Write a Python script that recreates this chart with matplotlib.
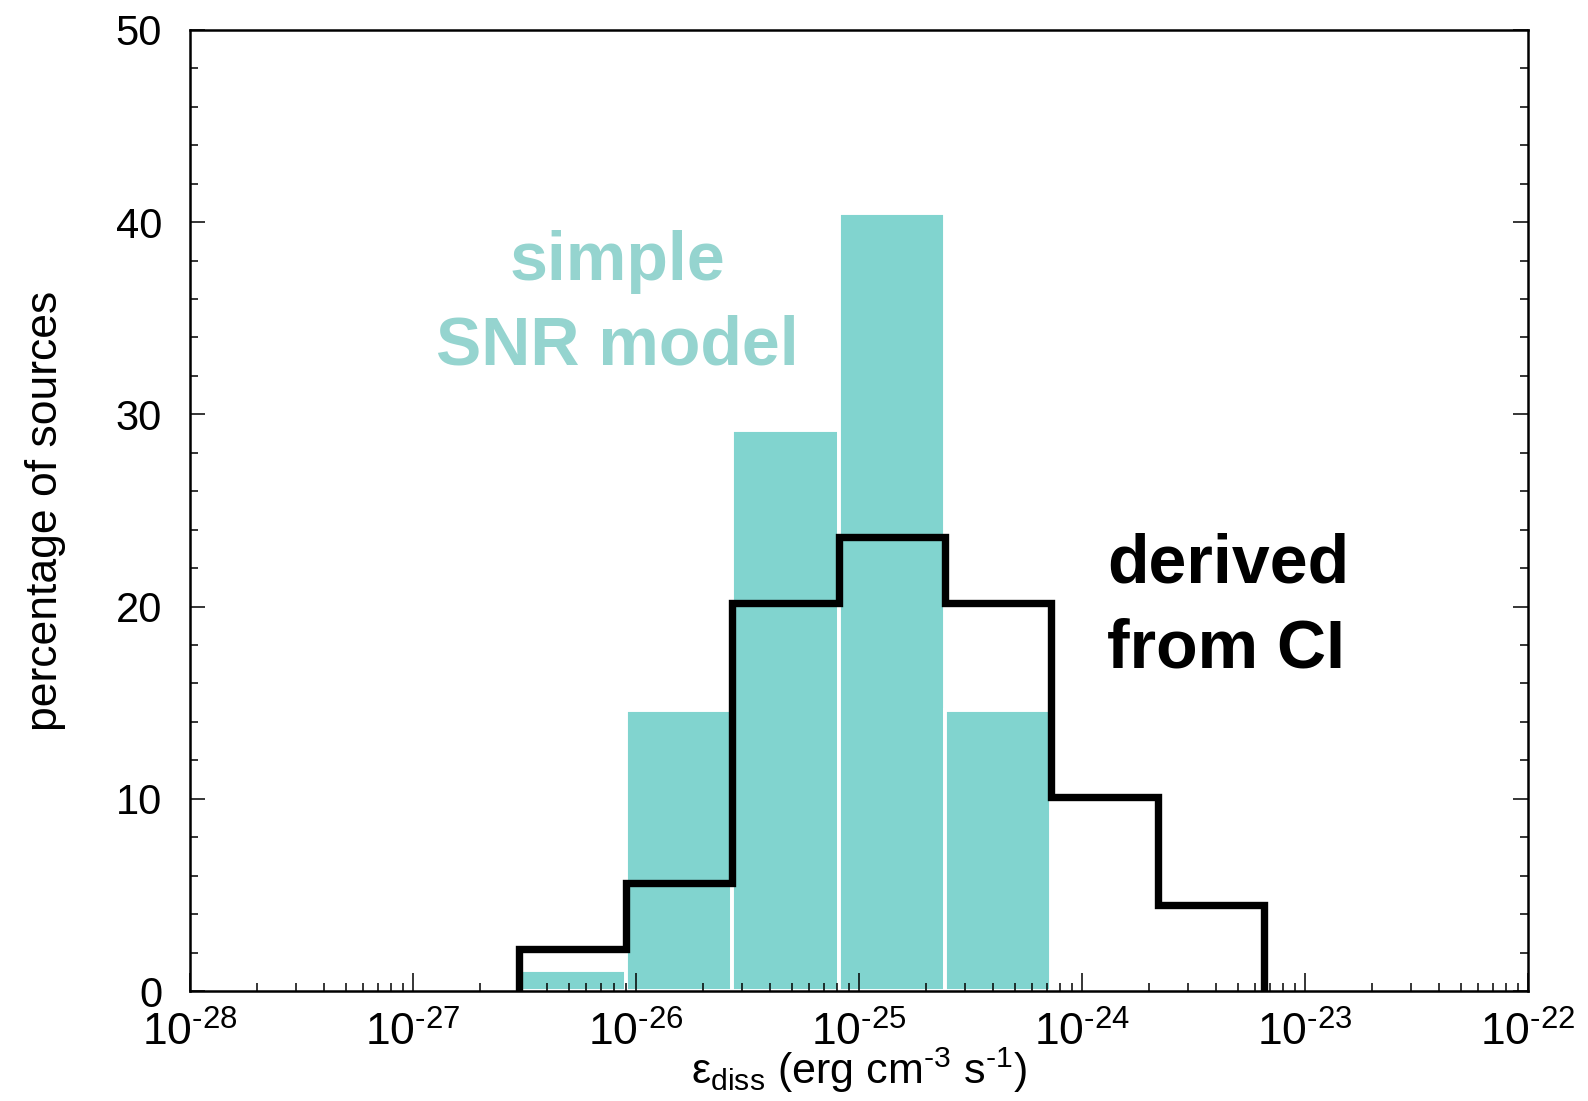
import math
import matplotlib
matplotlib.use("Agg")
import matplotlib.pyplot as plt
from matplotlib.ticker import LogLocator, MultipleLocator, FixedLocator, NullFormatter, FuncFormatter

plt.rcParams['font.family'] = ['Liberation Sans', 'DejaVu Sans']
plt.rcParams['mathtext.fontset'] = 'custom'
plt.rcParams['mathtext.rm'] = 'Liberation Sans'
plt.rcParams['mathtext.it'] = 'Liberation Sans:italic'
plt.rcParams['mathtext.bf'] = 'Liberation Sans:bold'

# bin edges (factor-of-3 bins), erg cm^-3 s^-1
bin_edges = [3e-27, 9e-27, 2.7e-26, 8.1e-26, 2.43e-25, 7.29e-25, 2.187e-24, 6.561e-24]
# simple SNR model (filled teal bars), first 5 bins
snr_model_pct = [1.1, 14.6, 29.2, 40.5, 14.6]
# derived from CI (black step histogram), all 7 bins
ci_derived_pct = [2.2, 5.6, 20.2, 23.6, 20.2, 10.1, 4.45]

x_major_ticks = [1e-28, 1e-27, 1e-26, 1e-25, 1e-24, 1e-23, 1e-22]
y_major_ticks = [0, 10, 20, 30, 40, 50]

teal = '#81d4cf'
teal_text = '#95d4cf'

fig = plt.figure(figsize=(15.88, 11.01), dpi=100)
ax = fig.add_axes([0.1196, 0.0999, 0.8426, 0.8729])

lefts = bin_edges[:len(snr_model_pct)]
widths = [bin_edges[i + 1] - bin_edges[i] for i in range(len(snr_model_pct))]
ax.bar(lefts, snr_model_pct, width=widths, align='edge', color=teal,
       edgecolor='white', linewidth=2.8, zorder=1)

ax.stairs(ci_derived_pct, bin_edges, baseline=0, color='black', linewidth=5.3,
          joinstyle='miter', zorder=3)

ax.set_xscale('log')
ax.set_xlim(1e-28, 1e-22)
ax.set_ylim(0, 50)

ax.xaxis.set_major_locator(FixedLocator(x_major_ticks))
ax.xaxis.set_minor_locator(LogLocator(base=10, subs=range(2, 10), numticks=100))
ax.xaxis.set_minor_formatter(NullFormatter())

def fmt(v, pos):
    e = int(round(math.log10(v)))
    return r'$\mathrm{10}^{\text{%d}}$' % e

ax.xaxis.set_major_formatter(FuncFormatter(fmt))
ax.yaxis.set_major_locator(FixedLocator(y_major_ticks))
ax.yaxis.set_minor_locator(MultipleLocator(2))

ax.tick_params(axis='x', which='both', direction='in', top=False, bottom=True,
               labelsize=32, pad=15)
ax.tick_params(axis='x', which='major', length=13, width=1.1)
ax.tick_params(axis='x', which='minor', length=6, width=1.1)
ax.tick_params(axis='y', which='both', direction='in', left=True, right=True,
               labelsize=30, pad=20)
ax.tick_params(axis='y', which='major', length=11, width=1.1)
ax.tick_params(axis='y', which='minor', length=6, width=1.1)

for s in ax.spines.values():
    s.set_linewidth(1.8)

ax.set_xlabel(r'$\mathrm{\varepsilon_{diss}}$ (erg cm$^{\text{-3}}$ s$^{\text{-1}}$)', fontsize=31)
ax.xaxis.set_label_coords(0.5, -0.057)
ax.set_ylabel('percentage of sources', fontsize=32)
ax.yaxis.label.set_va('center')
ax.yaxis.set_label_coords(-0.108, 0.5)

ax.text(0.3195, 0.7399, 'simple', transform=ax.transAxes, ha='center',
        va='baseline', fontsize=49, fontweight='bold', color=teal_text)
ax.text(0.3195, 0.6514, 'SNR model', transform=ax.transAxes, ha='center',
        va='baseline', fontsize=49, fontweight='bold', color=teal_text)
ax.text(0.6854, 0.4246, 'derived', transform=ax.transAxes, ha='left',
        va='baseline', fontsize=49, fontweight='bold', color='black')
ax.text(0.6854, 0.3371, 'from CI', transform=ax.transAxes, ha='left',
        va='baseline', fontsize=49, fontweight='bold', color='black')

fig.savefig('out.png', dpi=100)
